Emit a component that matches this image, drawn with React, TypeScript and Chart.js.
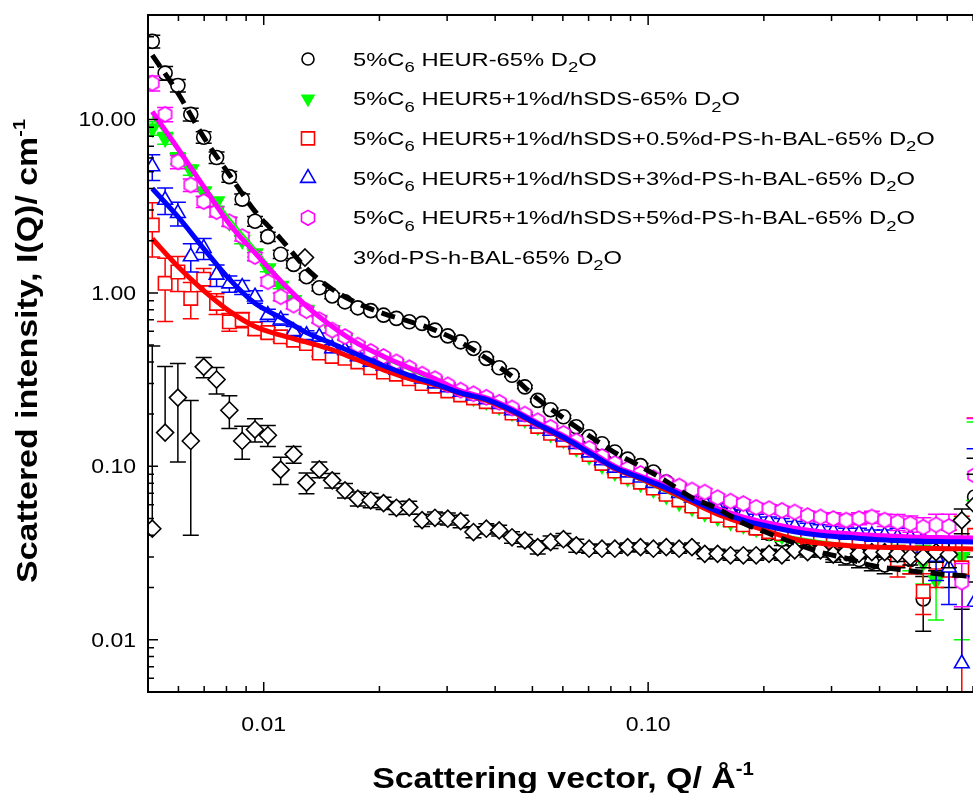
import React, { useEffect, useRef } from "react";
import { Chart, registerables } from "chart.js";
Chart.register(...registerables);

// ---------- data ----------
const Q = [0.00513,0.00554,0.00598,0.00646,0.00698,0.00754,0.00814,0.00879,0.00949,0.01025,
 0.01107,0.01196,0.01292,0.01395,0.01507,0.01627,0.01757,0.01898,0.0205,0.02214,
 0.02391,0.02582,0.02789,0.03012,0.03253,0.03513,0.03794,0.04098,0.04425,0.04779,
 0.05162,0.05575,0.06021,0.06503,0.07023,0.07585,0.08192,0.08847,0.09555,0.1032,
 0.1115,0.1204,0.13,0.1404,0.1516,0.1638,0.1769,0.191,0.2063,0.2228,
 0.2406,0.2599,0.2807,0.3031,0.3274,0.3536,0.3819,0.4124,0.4454,0.481,
 0.5195,0.5611,0.606,0.6545,0.7068];

const I_HEUR = [28.2,18.5,15.7,10.7,7.9,6.03,4.68,3.47,2.59,2.11,
 1.67,1.46,1.24,1.07,0.96,0.888,0.82,0.79,0.744,0.713,
 0.681,0.667,0.61,0.565,0.522,0.478,0.419,0.37,0.335,0.287,
 0.24,0.212,0.193,0.169,0.148,0.135,0.121,0.11,0.101,0.0927,
 0.0812,0.076,0.069,0.064,0.058,0.053,0.048,0.044,0.041,0.038,
 0.036,0.034,0.033,0.031,0.03,0.029,0.028,0.027,0.03,0.029,
 0.0172,0.031,0.027,0.023,0.0665];
const E_HEUR = [2.4,1.7,1.3,0.9,0.6,0.45,0.33,0.24,0.17,0.13,
 0.09,0.07,0.055,0.045,0.035,0.03,0.025,0.022,0.02,0.018,
 0.016,0.015,0.013,0.012,0.011,0.01,0.009,0.008,0.007,0.006,
 0.005,0.005,0.004,0.004,0.004,0.003,0.003,0.003,0.003,0.003,
 0.003,0.003,0.003,0.003,0.003,0.003,0.003,0.003,0.003,0.003,
 0.003,0.003,0.003,0.003,0.003,0.003,0.003,0.003,0.004,0.005,
 0.006,0.006,0.007,0.008,0.045];

const I_SDS = [8.9,7.8,5.98,5.12,3.83,3.36,2.57,2.02,1.69,1.385,
 1.1,0.91,0.8,0.7,0.61,0.55,0.49,0.45,0.41,0.38,
 0.35,0.325,0.305,0.285,0.265,0.25,0.238,0.222,0.205,0.188,
 0.17,0.155,0.143,0.128,0.115,0.102,0.093,0.086,0.08,0.074,
 0.068,0.062,0.058,0.054,0.051,0.048,0.046,0.044,0.042,0.04,
 0.039,0.038,0.037,0.036,0.036,0.035,0.035,0.034,0.033,0.031,
 0.028,0.022,0.036,0.03,0.06];
const E_SDS = [0.8,0.6,0.45,0.35,0.25,0.2,0.15,0.1,0.08,0.06,
 0.045,0.035,0.03,0.025,0.02,0.018,0.015,0.013,0.011,0.01,
 0.009,0.008,0.007,0.007,0.006,0.006,0.005,0.005,0.005,0.004,
 0.004,0.004,0.003,0.003,0.003,0.003,0.003,0.003,0.003,0.003,
 0.003,0.003,0.003,0.003,0.003,0.003,0.003,0.003,0.003,0.003,
 0.003,0.003,0.003,0.003,0.003,0.003,0.003,0.003,0.006,0.006,
 0.007,0.009,0.01,0.02,0.12];

const I_BAL05 = [2.46,1.135,1.32,0.929,1.2,0.87,0.681,0.7,0.62,0.59,
 0.558,0.534,0.51,0.45,0.43,0.42,0.4,0.37,0.35,0.34,
 0.32,0.3,0.29,0.272,0.258,0.248,0.236,0.222,0.203,0.188,
 0.17,0.155,0.142,0.129,0.117,0.104,0.094,0.087,0.081,0.075,
 0.069,0.064,0.059,0.055,0.052,0.049,0.046,0.044,0.042,0.041,
 0.04,0.039,0.038,0.037,0.036,0.037,0.036,0.035,0.029,0.031,
 0.019,0.028,0.033,0.026,0.04];
const E_BAL05 = [0.85,0.45,0.3,0.22,0.18,0.12,0.08,0.07,0.05,0.04,
 0.035,0.03,0.025,0.02,0.018,0.015,0.013,0.012,0.01,0.009,
 0.008,0.008,0.007,0.007,0.006,0.006,0.006,0.005,0.005,0.005,
 0.004,0.004,0.004,0.004,0.004,0.003,0.003,0.003,0.003,0.003,
 0.003,0.003,0.003,0.003,0.003,0.003,0.003,0.003,0.003,0.003,
 0.003,0.003,0.003,0.003,0.003,0.004,0.004,0.005,0.006,0.007,
 0.005,0.008,0.01,0.0255,0.15];

const I_BAL3 = [5.35,3.43,2.88,1.62,1.81,1.27,1.13,1.08,0.95,0.744,
 0.7,0.6,0.57,0.558,0.478,0.467,0.43,0.4,0.38,0.36,
 0.34,0.32,0.3,0.285,0.268,0.255,0.243,0.228,0.21,0.193,
 0.176,0.16,0.148,0.134,0.12,0.108,0.098,0.092,0.086,0.08,
 0.074,0.07,0.066,0.062,0.058,0.055,0.053,0.05,0.048,0.047,
 0.045,0.044,0.043,0.042,0.041,0.041,0.04,0.04,0.039,0.039,
 0.038,0.03,0.026,0.0073,0.0165];
const E_BAL3 = [0.9,0.6,0.45,0.3,0.25,0.18,0.12,0.1,0.08,0.06,
 0.05,0.04,0.035,0.03,0.025,0.02,0.018,0.015,0.013,0.012,
 0.01,0.009,0.008,0.008,0.007,0.007,0.006,0.006,0.005,0.005,
 0.005,0.004,0.004,0.004,0.004,0.003,0.003,0.003,0.003,0.003,
 0.003,0.003,0.003,0.003,0.003,0.003,0.003,0.003,0.003,0.003,
 0.003,0.003,0.003,0.003,0.003,0.003,0.003,0.003,0.005,0.005,
 0.006,0.008,0.01,0.016,0.11];

const I_BAL5 = [16.2,10.7,5.7,4.19,3.36,2.94,2.57,2.11,1.62,1.16,
 0.95,0.85,0.79,0.7,0.61,0.56,0.5,0.46,0.43,0.4,
 0.37,0.34,0.32,0.295,0.275,0.262,0.25,0.234,0.217,0.2,
 0.183,0.168,0.155,0.14,0.127,0.114,0.104,0.097,0.091,0.086,
 0.081,0.077,0.073,0.071,0.066,0.063,0.061,0.058,0.057,0.0557,
 0.0545,0.052,0.051,0.05,0.049,0.05,0.051,0.049,0.0477,0.0467,
 0.0446,0.046,0.045,0.0215,0.0887];
const E_BAL5 = [1.6,1.0,0.5,0.35,0.25,0.2,0.16,0.12,0.09,0.065,
 0.05,0.04,0.035,0.03,0.025,0.022,0.019,0.016,0.014,0.012,
 0.011,0.01,0.009,0.008,0.007,0.007,0.006,0.006,0.005,0.005,
 0.005,0.004,0.004,0.004,0.004,0.003,0.003,0.003,0.003,0.003,
 0.003,0.003,0.003,0.003,0.003,0.003,0.003,0.003,0.003,0.003,
 0.003,0.003,0.003,0.004,0.004,0.004,0.004,0.004,0.005,0.005,
 0.006,0.007,0.008,0.006,0.1];

const I_PS = [0.0437,0.1565,0.249,0.14,0.3745,0.3165,0.2105,0.14,0.163,0.151,
 0.0957,0.1173,0.0805,0.096,0.083,0.0727,0.0651,0.0637,0.0614,0.0577,
 0.058,0.049,0.0505,0.0499,0.0483,0.0418,0.0437,0.0427,0.039,0.0374,
 0.0342,0.0366,0.038,0.035,0.0335,0.0335,0.0335,0.0342,0.0342,0.0335,
 0.0342,0.0335,0.0342,0.0313,0.0313,0.0307,0.0307,0.0307,0.0313,0.0307,
 0.0328,0.032,0.0328,0.031,0.032,0.0313,0.032,0.032,0.0313,0.03,
 0.03,0.032,0.031,0.0488,0.06];
const E_PS = [0.45,0.22,0.143,0.1,0.05,0.055,0.045,0.03,0.025,0.021,
 0.017,0.013,0.011,0.01,0.008,0.007,0.006,0.006,0.005,0.005,
 0.005,0.004,0.004,0.004,0.004,0.003,0.003,0.003,0.003,0.003,
 0.003,0.003,0.003,0.003,0.002,0.002,0.002,0.002,0.002,0.002,
 0.002,0.002,0.002,0.002,0.002,0.002,0.002,0.002,0.002,0.002,
 0.002,0.002,0.002,0.002,0.002,0.002,0.002,0.002,0.003,0.003,
 0.004,0.004,0.005,0.008,0.03];

const FIT_Q = [0.00513,0.00598,0.00698,0.00814,0.00949,0.01107,0.01292,0.01507,0.01757,0.0205,
 0.02391,0.02789,0.03253,0.03794,0.04425,0.05162,0.06021,0.07023,0.08192,0.09555,
 0.1115,0.13,0.1516,0.1769,0.2063,0.2406,0.2807,0.3274,0.3819,0.4454,0.5195,0.606,0.7068];
const FIT_HEUR = [23.5,14.2,7.9,4.8,2.95,2.05,1.38,1.05,0.87,0.76,0.685,0.61,0.52,0.42,0.33,0.245,0.19,0.15,0.12,0.1,0.082,0.066,0.057,0.047,0.041,0.036,0.032,0.0295,0.0268,0.0255,0.0245,0.0237,0.0232];
const FIT_SDS = [10.4,6.6,4.2,2.7,1.8,1.2,0.85,0.64,0.51,0.42,0.36,0.31,0.265,0.24,0.207,0.172,0.145,0.118,0.096,0.083,0.071,0.061,0.053,0.047,0.042,0.039,0.037,0.0355,0.0347,0.0342,0.0339,0.0337,0.0336];
const FIT_BAL05 = [2.05,1.42,1.03,0.785,0.64,0.57,0.52,0.47,0.41,0.36,0.32,0.295,0.263,0.24,0.207,0.173,0.145,0.12,0.097,0.085,0.073,0.062,0.053,0.047,0.042,0.038,0.036,0.035,0.0343,0.034,0.0337,0.0335,0.0334];
const FIT_BAL3 = [4.0,2.75,1.8,1.2,0.87,0.72,0.59,0.51,0.44,0.38,0.335,0.3,0.265,0.243,0.21,0.175,0.147,0.12,0.098,0.086,0.075,0.064,0.055,0.049,0.045,0.042,0.04,0.039,0.038,0.0373,0.037,0.0368,0.0366];
const FIT_BAL5 = [11.1,6.8,4.1,2.5,1.7,1.17,0.84,0.64,0.51,0.43,0.37,0.32,0.272,0.248,0.214,0.178,0.15,0.123,0.1,0.088,0.077,0.066,0.057,0.051,0.047,0.044,0.042,0.041,0.04,0.0395,0.039,0.0388,0.0386];

const X_MAJOR = [0.01, 0.1];
const X_LABELS = ["0.01", "0.10"];
const X_MINOR = [0.006,0.007,0.008,0.009,0.02,0.03,0.04,0.05,0.06,0.07,0.08,0.09,0.2,0.3,0.4,0.5,0.6,0.7];
const Y_MAJOR = [0.01, 0.1, 1, 10];
const Y_LABELS = ["0.01", "0.10", "1.00", "10.00"];
const Y_MINOR = [0.005,0.006,0.007,0.008,0.009,0.02,0.03,0.04,0.05,0.06,0.07,0.08,0.09,0.2,0.3,0.4,0.5,0.6,0.7,0.8,0.9,2,3,4,5,6,7,8,9,20,30,40];

const X_TITLE = "Scattering vector, Q/ Å";
const Y_TITLE = "Scattered intensity, I(Q)/ cm";

type Part = [string, number];
const LEGEND: { parts: Part[]; mk: string; color: string }[] = [
  { parts: [["5%C", 0], ["6", 1], [" HEUR-65% D", 0], ["2", 1], ["O", 0]], mk: "circle", color: "#000000" },
  { parts: [["5%C", 0], ["6", 1], [" HEUR5+1%d/hSDS-65% D", 0], ["2", 1], ["O", 0]], mk: "tridown", color: "#00FF00" },
  { parts: [["5%C", 0], ["6", 1], [" HEUR5+1%d/hSDS+0.5%d-PS-h-BAL-65% D", 0], ["2", 1], ["O", 0]], mk: "square", color: "#FF0000" },
  { parts: [["5%C", 0], ["6", 1], [" HEUR5+1%d/hSDS+3%d-PS-h-BAL-65% D", 0], ["2", 1], ["O", 0]], mk: "triup", color: "#0000FF" },
  { parts: [["5%C", 0], ["6", 1], [" HEUR5+1%d/hSDS+5%d-PS-h-BAL-65% D", 0], ["2", 1], ["O", 0]], mk: "hex", color: "#FF00FF" },
  { parts: [["3%d-PS-h-BAL-65% D", 0], ["2", 1], ["O", 0]], mk: "diamond", color: "#000000" },
];

const FONT = '"Liberation Sans", Arial, sans-serif';

function drawRich(ctx: CanvasRenderingContext2D, parts: Part[], x: number, y: number, size: number, bold: boolean, sx: number, align: string, rot = 0, subSize = 0.75) {
  ctx.save();
  ctx.translate(x, y);
  if (rot) ctx.rotate(rot);
  ctx.scale(sx, 1);
  const fontFor = (k: number) => `${bold ? "bold " : ""}${k === 0 ? size : Math.round(size * subSize)}px ${FONT}`;
  const widths = parts.map(([t, k]) => { ctx.font = fontFor(k); return ctx.measureText(t).width; });
  const total = widths.reduce((a, b) => a + b, 0);
  let cx = align === "center" ? -total / 2 : align === "right" ? -total : 0;
  ctx.textBaseline = "alphabetic";
  ctx.textAlign = "left";
  ctx.fillStyle = "#000";
  parts.forEach(([t, k], i) => {
    ctx.font = fontFor(k);
    const dy = k === 1 ? size * 0.36 : k === 2 ? -size * 0.42 : 0;
    ctx.fillText(t, cx, dy);
    cx += widths[i];
  });
  ctx.restore();
}

function hexPath(ctx: CanvasRenderingContext2D, cx: number, cy: number, r: number) {
  ctx.beginPath();
  for (let k = 0; k < 6; k++) {
    const a = Math.PI / 2 + (k * Math.PI) / 3;
    const px = cx + r * Math.cos(a), py = cy + r * Math.sin(a);
    if (k === 0) ctx.moveTo(px, py); else ctx.lineTo(px, py);
  }
  ctx.closePath();
}

function makeHex(color: string, r: number) {
  const c = document.createElement("canvas");
  const s = Math.ceil(r * 2 + 4);
  c.width = s; c.height = s;
  const g = c.getContext("2d")!;
  g.strokeStyle = color; g.lineWidth = 1.6; g.fillStyle = "#FFFFFF";
  hexPath(g, s / 2, s / 2, r);
  g.fill();
  g.stroke();
  return c;
}

function drawMarker(ctx: CanvasRenderingContext2D, mk: string, color: string, x: number, y: number) {
  ctx.save();
  ctx.strokeStyle = color; ctx.fillStyle = color; ctx.lineWidth = 1.6;
  ctx.beginPath();
  if (mk === "circle") { ctx.arc(x, y, 6, 0, Math.PI * 2); ctx.stroke(); }
  else if (mk === "tridown") { const r = 8.5; ctx.moveTo(x, y + r); ctx.lineTo(x - r * 0.866, y - r / 2); ctx.lineTo(x + r * 0.866, y - r / 2); ctx.closePath(); ctx.fill(); }
  else if (mk === "triup") { const r = 8.5; ctx.moveTo(x, y - r); ctx.lineTo(x - r * 0.866, y + r / 2); ctx.lineTo(x + r * 0.866, y + r / 2); ctx.closePath(); ctx.stroke(); }
  else if (mk === "square") { ctx.rect(x - 6.5, y - 6.5, 13, 13); ctx.stroke(); }
  else if (mk === "hex") { hexPath(ctx, x, y, 7.5); ctx.stroke(); }
  else if (mk === "diamond") { const r = 8.5; ctx.moveTo(x, y - r); ctx.lineTo(x + r, y); ctx.lineTo(x, y + r); ctx.lineTo(x - r, y); ctx.closePath(); ctx.stroke(); }
  ctx.restore();
}

const errorBarPlugin = {
  id: "errorBars",
  beforeDatasetDraw(chart: any, args: any) {
    const ds = chart.data.datasets[args.index];
    if (!ds.errY) return;
    const { ctx, chartArea: a } = chart;
    const xs = chart.scales.x, ys = chart.scales.y;
    ctx.save();
    ctx.beginPath();
    ctx.rect(a.left, a.top, a.right - a.left, a.bottom - a.top);
    ctx.clip();
    ctx.strokeStyle = ds.borderColor;
    ctx.lineWidth = 1.5;
    ds.data.forEach((p: any, i: number) => {
      const e = ds.errY[i];
      if (!e) return;
      const px = xs.getPixelForValue(p.x);
      const py = ys.getPixelForValue(p.y);
      const top = ys.getPixelForValue(p.y + e);
      ctx.beginPath();
      ctx.moveTo(px, py); ctx.lineTo(px, top);
      ctx.moveTo(px - 8, top); ctx.lineTo(px + 8, top);
      if (p.y - e > 0) {
        const bot = ys.getPixelForValue(p.y - e);
        ctx.moveTo(px, py); ctx.lineTo(px, bot);
        ctx.moveTo(px - 8, bot); ctx.lineTo(px + 8, bot);
      }
      ctx.stroke();
    });
    ctx.restore();
  },
};

const framePlugin = {
  id: "frame",
  afterDraw(chart: any) {
    const { ctx, chartArea: a } = chart;
    const xs = chart.scales.x, ys = chart.scales.y;
    ctx.save();
    ctx.strokeStyle = "#000";
    ctx.lineWidth = 1.5;
    ctx.beginPath();
    X_MAJOR.forEach((v) => { const p = xs.getPixelForValue(v); ctx.moveTo(p, a.bottom); ctx.lineTo(p, a.bottom - 10); ctx.moveTo(p, a.top); ctx.lineTo(p, a.top + 10); });
    X_MINOR.forEach((v) => { const p = xs.getPixelForValue(v); ctx.moveTo(p, a.bottom); ctx.lineTo(p, a.bottom - 6); ctx.moveTo(p, a.top); ctx.lineTo(p, a.top + 6); });
    Y_MAJOR.forEach((v) => { const p = ys.getPixelForValue(v); ctx.moveTo(a.left, p); ctx.lineTo(a.left + 10, p); });
    Y_MINOR.forEach((v) => { const p = ys.getPixelForValue(v); ctx.moveTo(a.left, p); ctx.lineTo(a.left + 6, p); });
    ctx.stroke();
    ctx.lineWidth = 2;
    ctx.beginPath();
    ctx.moveTo(a.right + 2, a.top); ctx.lineTo(a.left, a.top); ctx.lineTo(a.left, a.bottom); ctx.lineTo(a.right + 2, a.bottom);
    ctx.stroke();
    ctx.restore();

    // tick labels
    Y_MAJOR.forEach((v, i) => {
      const p = ys.getPixelForValue(v);
      drawRich(ctx, [[Y_LABELS[i], 0]], 136, p + 7, 20, false, 1.15, "right");
    });
    X_MAJOR.forEach((v, i) => {
      const p = xs.getPixelForValue(v);
      drawRich(ctx, [[X_LABELS[i], 0]], p, 731, 21, false, 1.1, "center");
    });
    // axis titles
    drawRich(ctx, [[X_TITLE, 0], ["-1", 2]], 563, 788, 30, true, 1.13, "center", 0, 0.6);
    drawRich(ctx, [[Y_TITLE, 0], ["-1", 2]], 37, 351, 29, true, 1.17, "center", -Math.PI / 2, 0.6);

    // legend
    LEGEND.forEach((it, i) => {
      const cy = 59 + i * 39.7;
      drawMarker(ctx, it.mk, it.color, it.mk === "diamond" ? 305 : 308, cy);
      drawRich(ctx, it.parts, 353, cy + 6.5, 18, false, 1.32, "left", 0, 0.78);
    });
  },
};

function pts(ys: number[], xs: number[]) {
  return xs.map((x, i) => ({ x, y: ys[i] }));
}

export default function App() {
  const ref = useRef<HTMLCanvasElement>(null);
  useEffect(() => {
    document.body.style.margin = "0";
    const hex = makeHex("#FF00FF", 7.5);
    const marker = (label: string, ys: number[], es: number[], color: string, style: any, radius: number, order: number, extra: any = {}) => ({
      label, data: pts(ys, Q), errY: es, showLine: false, pointStyle: style, pointRadius: radius,
      borderColor: color, pointBorderColor: color, pointBackgroundColor: "#FFFFFF", pointBorderWidth: 1.6, order, ...extra,
    });
    const fit = (label: string, ys: number[], color: string, width: number, order: number, dash: number[] = []) => ({
      label, data: pts(ys, FIT_Q), showLine: true, pointRadius: 0, borderColor: color, borderWidth: width,
      borderDash: dash, cubicInterpolationMode: "monotone", fill: false, order, borderCapStyle: "butt",
    });
    const chart = new Chart(ref.current!, {
      type: "scatter",
      data: {
        datasets: [
          fit("fit HEUR", FIT_HEUR, "#000000", 5, 0, [14, 8]),
          fit("fit 3%", FIT_BAL3, "#0000FF", 5, 1),
          fit("fit 5%", FIT_BAL5, "#FF00FF", 5, 2),
          fit("fit 0.5%", FIT_BAL05, "#FF0000", 5, 3),
          fit("fit SDS", FIT_SDS, "#00FF00", 2, 4),
          marker("PS", I_PS, E_PS, "#000000", "rectRot", 8.5, 5),
          marker("5%", I_BAL5, E_BAL5, "#FF00FF", hex, 8, 6),
          marker("3%", I_BAL3, E_BAL3, "#0000FF", "triangle", 8.5, 7),
          marker("0.5%", I_BAL05, E_BAL05, "#FF0000", "rect", 9.5, 8),
          marker("SDS", I_SDS, E_SDS, "#00FF00", "triangle", 8.5, 9, { pointRotation: 180, pointBackgroundColor: "#00FF00" }),
          marker("HEUR", I_HEUR, E_HEUR, "#000000", "circle", 7, 10),
        ] as any,
      },
      options: {
        responsive: false,
        animation: false,
        devicePixelRatio: 1,
        events: [],
        layout: { autoPadding: false, padding: { left: 148, right: 0, top: 15, bottom: 101 } },
        scales: {
          x: { type: "logarithmic", min: 0.005, max: 0.7, display: false },
          y: { type: "logarithmic", min: 0.005, max: 40, display: false },
        },
        plugins: { legend: { display: false }, tooltip: { enabled: false } },
      } as any,
      plugins: [errorBarPlugin, framePlugin],
    });
    return () => chart.destroy();
  }, []);
  return <canvas ref={ref} width={973} height={793} style={{ display: "block", width: 973, height: 793 }} />;
}
